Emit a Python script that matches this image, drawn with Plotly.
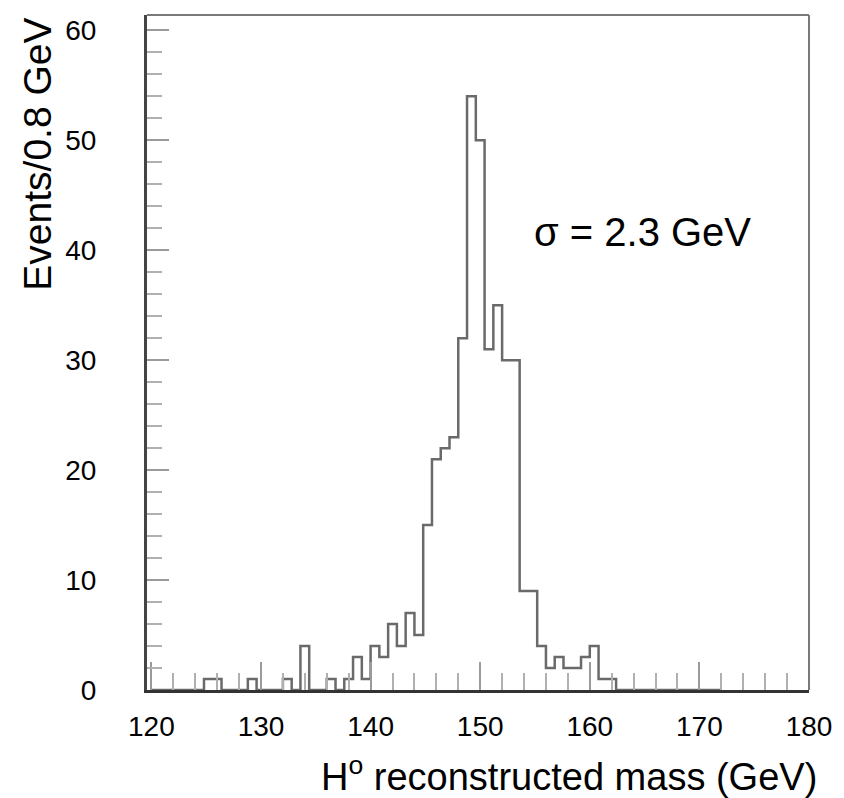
import plotly.graph_objects as go

# ---- data ----
bin_start = 120.0      # GeV, lower edge of first bin
bin_width = 0.8        # GeV
counts = [
    0, 0, 0, 0, 0, 0, 1, 1, 0, 0,      # 120.0 - 128.0
    0, 1, 0, 0, 0, 1, 0, 4, 0, 0,      # 128.0 - 136.0
    1, 0, 1, 3, 1, 4, 3, 6, 4, 7,      # 136.0 - 144.0
    5, 15, 21, 22, 23, 32, 54, 50, 31, 35,  # 144.0 - 152.0
    30, 30, 9, 9, 4, 2, 3, 2, 2, 3,    # 152.0 - 160.0
    4, 1, 1, 0, 0, 0, 0, 0, 0, 0,      # 160.0 - 168.0
    0, 0, 0, 0, 0,                     # 168.0 - 172.0 ... 180
]
x_tick_vals = [120, 130, 140, 150, 160, 170, 180]
y_tick_vals = [0, 10, 20, 30, 40, 50, 60]
x_title = "H<sup>o</sup> reconstructed mass (GeV)"
y_title = "Events/0.8 GeV"
sigma_text = "σ = 2.3 GeV"

# step outline built from bin edges
edges = [bin_start + i * bin_width for i in range(len(counts) + 1)]
xs = edges
ys = counts + [counts[-1]]

W, H = 844, 798
L, R, T, B = 147, 28, 15, 108
pw, ph = W - L - R, H - T - B

FONT = "Liberation Sans, Arial, Helvetica, sans-serif"

fig = go.Figure()
fig.add_trace(go.Scatter(
    x=xs, y=ys, mode="lines", line=dict(shape="hv", color="#6a6a6a", width=2.5),
    hoverinfo="skip", showlegend=False,
))

fig.update_layout(
    width=W, height=H,
    margin=dict(l=L, r=R, t=T, b=B, pad=0),
    paper_bgcolor="white", plot_bgcolor="white",
    font=dict(family=FONT, color="black"),
    xaxis=dict(
        range=[119.6, 180.0], showgrid=False, zeroline=False,
        showline=True, linecolor="#333333", linewidth=3, mirror=False,
        tickmode="array", tickvals=x_tick_vals, ticktext=[str(v) for v in x_tick_vals],
        ticks="inside", ticklen=28, tickwidth=2, tickcolor="#9a9a9a",
        minor=dict(dtick=2, tick0=120, ticks="inside", ticklen=17, tickwidth=2, tickcolor="#b0b0b0"),
        tickfont=dict(size=28, family=FONT, color="black"),
        ticklabelstandoff=9,
        layer="above traces",
    ),
    yaxis=dict(
        range=[0, 61.4], showgrid=False, zeroline=False,
        showline=True, linecolor="#444444", linewidth=3, mirror=False,
        tickmode="array", tickvals=y_tick_vals, ticktext=[str(v) for v in y_tick_vals],
        ticks="inside", ticklen=22, tickwidth=2, tickcolor="#9a9a9a",
        minor=dict(dtick=2, tick0=0, ticks="inside", ticklen=15, tickwidth=2, tickcolor="#b0b0b0"),
        tickfont=dict(size=28, family=FONT, color="black"),
        ticklabelstandoff=42,
        layer="above traces",
    ),
    shapes=[
        dict(type="line", xref="paper", yref="paper", x0=0, x1=1, y0=1, y1=1,
             line=dict(color="#7a7a7a", width=2)),
        dict(type="line", xref="paper", yref="paper", x0=1, x1=1, y0=0, y1=1,
             line=dict(color="#7a7a7a", width=2)),
    ],
    annotations=[
        dict(text=y_title, xref="paper", yref="paper",
             x=(36 - L) / pw, y=(H - B - 16) / ph, xanchor="center", yanchor="top",
             textangle=-90, showarrow=False, font=dict(size=39, family=FONT, color="black")),
        dict(text=x_title, xref="paper", yref="paper",
             x=(826 - L) / pw, y=(H - B - 774) / ph, xanchor="right", yanchor="middle",
             showarrow=False, font=dict(size=38, family=FONT, color="black")),
        dict(text=sigma_text, xref="paper", yref="paper",
             x=(648 - L) / pw, y=(H - B - 232) / ph, xanchor="center", yanchor="middle",
             showarrow=False, font=dict(size=40, family=FONT, color="black")),
    ],
)

fig.write_html("out.html")
